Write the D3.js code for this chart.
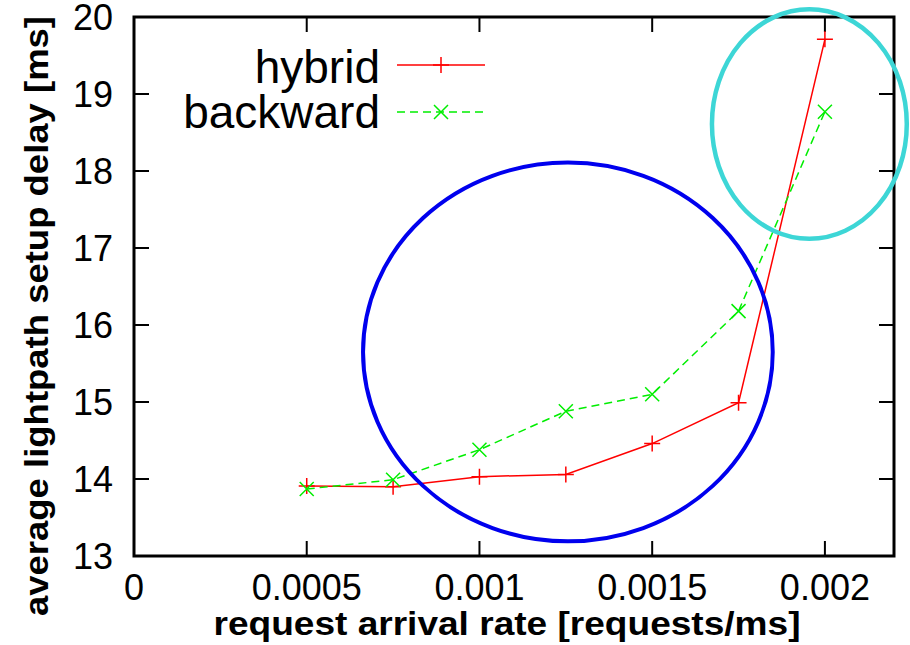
<!DOCTYPE html>
<html>
<head>
<meta charset="utf-8">
<script src="https://cdn.jsdelivr.net/npm/d3@7"></script>
<style>
  body { margin: 0; background: #fff; }
  svg { display: block; font-family: "Liberation Sans", Arial, sans-serif; }
</style>
</head>
<body>
<div id="chart"></div>
<script>
// data
const rates = [0.0005, 0.00075, 0.001, 0.00125, 0.0015, 0.00175, 0.002];
const hybrid = [13.91, 13.90, 14.03, 14.06, 14.46, 14.99, 19.71];
const backward = [13.87, 13.99, 14.38, 14.88, 15.10, 16.18, 18.77];
const xTicks = [0, 0.0005, 0.001, 0.0015, 0.002];
const yTicks = [13, 14, 15, 16, 17, 18, 19, 20];
// highlight ellipses in data units: [cx, cy, rx, ry]
const blueRing = [0.001256, 15.65, 0.000593, 2.46];
const cyanRing = [0.001955, 18.61, 0.000282, 1.49];

const width = 910, height = 645;
const plotL = 134, plotR = 894, plotT = 17, plotB = 556;

const svg = d3.select('#chart').append('svg')
    .attr('width', width)
    .attr('height', height);

const x = d3.scaleLinear().domain([0, 0.0022]).range([plotL, plotR]);
const y = d3.scaleLinear().domain([13, 20]).range([plotB, plotT]);

// inward ticks on all four sides (gnuplot style)
const tickLen = 15;
const ticks = svg.append('g').attr('stroke', '#000').attr('stroke-width', 2);
xTicks.forEach(t => {
    ticks.append('line').attr('x1', x(t)).attr('x2', x(t)).attr('y1', plotB).attr('y2', plotB - tickLen);
    ticks.append('line').attr('x1', x(t)).attr('x2', x(t)).attr('y1', plotT).attr('y2', plotT + tickLen);
});
yTicks.forEach(t => {
    ticks.append('line').attr('x1', plotL).attr('x2', plotL + tickLen).attr('y1', y(t)).attr('y2', y(t));
    ticks.append('line').attr('x1', plotR).attr('x2', plotR - tickLen).attr('y1', y(t)).attr('y2', y(t));
});

// tick labels
svg.append('g').selectAll('text')
    .data(xTicks)
    .enter()
    .append('text')
    .attr('x', d => x(d))
    .attr('y', 600)
    .attr('text-anchor', 'middle')
    .attr('font-size', 36)
    .text(d => d === 0 ? '0' : String(d));

svg.append('g').selectAll('text')
    .data(yTicks)
    .enter()
    .append('text')
    .attr('x', 113)
    .attr('y', d => y(d))
    .attr('dy', '0.36em')
    .attr('text-anchor', 'end')
    .attr('font-size', 36)
    .text(d => d);

// axis titles
svg.append('text')
    .attr('x', 507)
    .attr('y', 635)
    .attr('text-anchor', 'middle')
    .attr('font-size', 33)
    .attr('font-weight', 'bold')
    .attr('textLength', 587)
    .attr('lengthAdjust', 'spacingAndGlyphs')
    .text('request arrival rate [requests/ms]');

svg.append('text')
    .attr('transform', 'translate(36,316) rotate(-90)')
    .attr('dy', '0.36em')
    .attr('text-anchor', 'middle')
    .attr('font-size', 33)
    .attr('font-weight', 'bold')
    .attr('textLength', 600)
    .attr('lengthAdjust', 'spacingAndGlyphs')
    .text('average lightpath setup delay [ms]');

// series
const line = d3.line().x(d => x(d[0])).y(d => y(d[1]));
const hybridPts = rates.map((r, i) => [r, hybrid[i]]);
const backPts = rates.map((r, i) => [r, backward[i]]);

function plus(g, cx, cy, s) {
    g.append('path').attr('d', `M${cx - s},${cy}H${cx + s}M${cx},${cy - s}V${cy + s}`);
}
function cross(g, cx, cy, s) {
    g.append('path').attr('d', `M${cx - s},${cy - s}L${cx + s},${cy + s}M${cx - s},${cy + s}L${cx + s},${cy - s}`);
}

const hy = svg.append('g').attr('stroke', '#ff0000').attr('stroke-width', 1.5).attr('fill', 'none');
hy.append('path').attr('d', line(hybridPts));
hybridPts.forEach(p => plus(hy, x(p[0]), y(p[1]), 8));

const bw = svg.append('g').attr('stroke', '#00ee00').attr('stroke-width', 1.5).attr('fill', 'none');
bw.append('path').attr('d', line(backPts)).attr('stroke-dasharray', '8,5');
backPts.forEach(p => cross(bw, x(p[0]), y(p[1]), 7));

// legend
svg.append('text').attr('x', 380).attr('y', 83).attr('text-anchor', 'end').attr('font-size', 46).text('hybrid');
svg.append('text').attr('x', 380).attr('y', 128).attr('text-anchor', 'end').attr('font-size', 46).text('backward');
const lg1 = svg.append('g').attr('stroke', '#ff0000').attr('stroke-width', 1.5);
lg1.append('line').attr('x1', 397).attr('x2', 485).attr('y1', 65).attr('y2', 65);
plus(lg1, 441, 65, 8);
const lg2 = svg.append('g').attr('stroke', '#00ee00').attr('stroke-width', 1.5);
lg2.append('line').attr('x1', 397).attr('x2', 485).attr('y1', 112).attr('y2', 112).attr('stroke-dasharray', '8,5');
cross(lg2, 441, 112, 7);

// frame
svg.append('rect')
    .attr('x', plotL).attr('y', plotT)
    .attr('width', plotR - plotL).attr('height', plotB - plotT)
    .attr('fill', 'none').attr('stroke', '#000').attr('stroke-width', 3);

// highlight rings
function ring(e, color, w) {
    svg.append('ellipse')
        .attr('cx', x(e[0])).attr('cy', y(e[1]))
        .attr('rx', x(e[0] + e[2]) - x(e[0]))
        .attr('ry', y(e[1] - e[3]) - y(e[1]))
        .attr('fill', 'none').attr('stroke', color).attr('stroke-width', w);
}
ring(blueRing, '#0000ee', 4);
ring(cyanRing, '#3dd6d6', 4.5);
</script>
</body>
</html>
